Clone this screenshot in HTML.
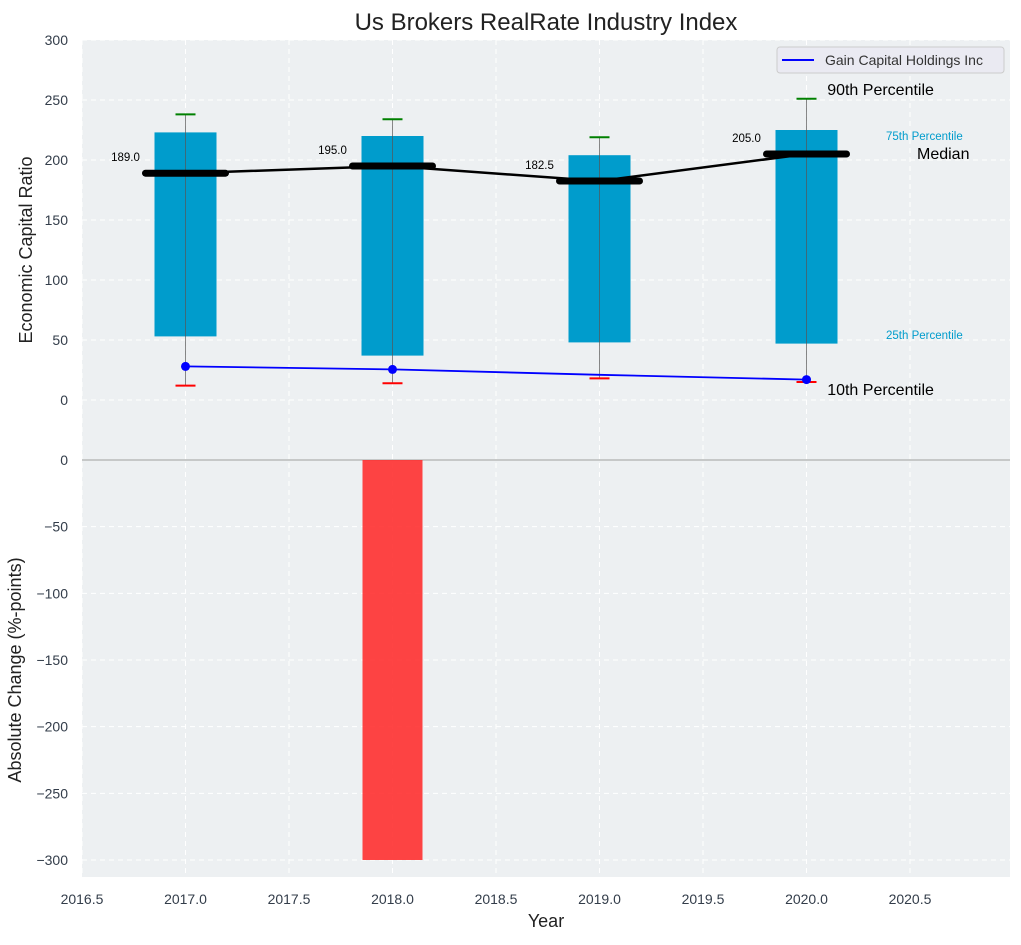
<!DOCTYPE html>
<html><head><meta charset="utf-8">
<style>
body{margin:0;background:#fff;font-family:"Liberation Sans",sans-serif;}
svg text{font-family:"Liberation Sans",sans-serif;}
</style></head>
<body>
<svg id="chart" width="1021" height="940" xmlns="http://www.w3.org/2000/svg"></svg>
<script>
const years = [2017, 2018, 2019, 2020];
const p10 = [12, 14, 18, 15];
const p25 = [53, 37, 48, 47];
const median = [189, 195, 182.5, 205];
const p75 = [223, 220, 204, 225];
const p90 = [238, 234, 219, 251];
const companyYears = [2017, 2018, 2019, 2020];
const companyVals = [28, 25.5, 21, 17];
const companyMarkers = [true, true, false, true];
const changeVals = [0, -300, 0, 0];
const xTicks = [2016.5, 2017.0, 2017.5, 2018.0, 2018.5, 2019.0, 2019.5, 2020.0, 2020.5];
const yTopTicks = [0, 50, 100, 150, 200, 250, 300];
const yBotTicks = [0, -50, -100, -150, -200, -250, -300];

const NS = "http://www.w3.org/2000/svg";
const svg = document.getElementById('chart');
const L = 82, R = 1010;
const x = v => L + (v - 2016.5) * 207;
const yT = v => 400 - v * 1.2;
const yB = v => 460 - v * (400 / 300);
function el(tag, attrs, parent) {
  const e = document.createElementNS(NS, tag);
  for (const k in attrs) e.setAttribute(k, attrs[k]);
  (parent || svg).appendChild(e);
  return e;
}
function txt(s, attrs) { const t = el('text', attrs); t.textContent = s; return t; }

el('rect', {x: L, y: 40, width: R - L, height: 837, fill: '#edf0f2'});
let bg = el('rect', {x: L, y: 40, width: R - L, height: 420, fill: 'none'});


bg = el('rect', {x: L, y: 460, width: R - L, height: 417, fill: 'none'});



xTicks.forEach(t => {
  el('line', {x1: x(t), x2: x(t), y1: 40, y2: 877, stroke: '#fff', 'stroke-dasharray': '5,4', 'stroke-width': 1});
  const lb = txt(t.toFixed(1), {x: x(t), y: 904, 'text-anchor': 'middle', 'font-size': 14, fill: '#333d4a'});
  
  
});
yTopTicks.forEach(t => {
  el('line', {x1: L, x2: R, y1: yT(t), y2: yT(t), stroke: '#fff', 'stroke-dasharray': '5,4'});
  const lb = txt(String(t), {x: 68, y: yT(t) + 5, 'text-anchor': 'end', 'font-size': 14, fill: '#333d4a'});
  
  
});
yBotTicks.forEach(t => {
  el('line', {x1: L, x2: R, y1: yB(t), y2: yB(t), stroke: '#fff', 'stroke-dasharray': '5,4'});
  const lb = txt(String(t).replace('-', '\u2212'), {x: 68, y: yB(t) + 5, 'text-anchor': 'end', 'font-size': 14, fill: '#333d4a'});
  
  
});
el('line', {x1: L, x2: R, y1: 460, y2: 460, stroke: '#b0b0b0', 'stroke-width': 1.2});

years.forEach((yr, i) => {
  const cx = x(yr), w = 62;
  const b = el('rect', {x: cx - w / 2, y: yT(p75[i]), width: w, height: yT(p25[i]) - yT(p75[i]), fill: '#009ccc'});
  
  
  el('line', {x1: cx, x2: cx, y1: yT(p90[i]), y2: yT(p10[i]), stroke: '#555', 'stroke-width': 1, 'stroke-opacity': 0.7});
  const g = el('line', {x1: cx - 10, x2: cx + 10, y1: yT(p90[i]), y2: yT(p90[i]), stroke: 'green', 'stroke-width': 2});
  
  
  const r = el('line', {x1: cx - 10, x2: cx + 10, y1: yT(p10[i]), y2: yT(p10[i]), stroke: 'red', 'stroke-width': 2});
  
  
});
const mp = el('polyline', {points: years.map((yr, i) => x(yr) + ',' + yT(median[i])).join(' '), fill: 'none', stroke: '#000', 'stroke-width': 2.5});


years.forEach((yr, i) => {
  const m = el('line', {x1: x(yr) - 40, x2: x(yr) + 40, y1: yT(median[i]), y2: yT(median[i]), stroke: '#000', 'stroke-width': 7, 'stroke-linecap': 'round'});
  
  
  const lb = txt(median[i].toFixed(1), {x: x(yr - 0.29), y: yT(median[i]) - 12, 'text-anchor': 'middle', 'font-size': 11.5, fill: '#000'});
  
  
});
const cl = el('polyline', {points: companyYears.map((yr, i) => x(yr) + ',' + yT(companyVals[i])).join(' '), fill: 'none', stroke: 'blue', 'stroke-width': 1.8});


companyYears.forEach((yr, i) => {
  if (!companyMarkers[i]) return;
  const c = el('circle', {cx: x(yr), cy: yT(companyVals[i]), r: 4.5, fill: 'blue'});
  
  
});
years.forEach((yr, i) => {
  if (!changeVals[i]) return;
  const v = changeVals[i];
  const b = el('rect', {x: x(yr) - 30, y: Math.min(yB(0), yB(v)), width: 60, height: Math.abs(yB(v) - yB(0)), fill: '#ff2a2a', 'fill-opacity': 0.88});
  
  
});

const last = years.length - 1;
let a = txt('90th Percentile', {x: x(2020.1), y: yT(p90[last]) - 4, 'font-size': 16, fill: '#000'});
 
a = txt('75th Percentile', {x: 886, y: 140, 'font-size': 11.5, fill: '#009ccc'});
 
a = txt('Median', {x: 917, y: 159, 'font-size': 16, fill: '#000'});
 
a = txt('25th Percentile', {x: 886, y: 339, 'font-size': 11.5, fill: '#009ccc'});
 
a = txt('10th Percentile', {x: x(2020.1), y: 395, 'font-size': 16, fill: '#000'});
 

const lg = el('g', {});


el('rect', {x: 777, y: 47, width: 227, height: 26, rx: 3, fill: '#eaeaf2', stroke: '#ccc'}, lg);
el('line', {x1: 782, x2: 814, y1: 60, y2: 60, stroke: 'blue', 'stroke-width': 2}, lg);
const lt = el('text', {x: 825, y: 65, 'font-size': 14, fill: '#333'}, lg);
lt.textContent = 'Gain Capital Holdings Inc';

a = txt('Us Brokers RealRate Industry Index', {x: 546, y: 30, 'text-anchor': 'middle', 'font-size': 24, fill: '#222'});
 
a = txt('Year', {x: 546, y: 927, 'text-anchor': 'middle', 'font-size': 18, fill: '#222'});
 
a = txt('Economic Capital Ratio', {x: 32, y: 250, 'text-anchor': 'middle', 'font-size': 18, fill: '#222', transform: 'rotate(-90 32 250)'});
 
a = txt('Absolute Change (%-points)', {x: 21, y: 670, 'text-anchor': 'middle', 'font-size': 18, fill: '#222', transform: 'rotate(-90 21 670)'});
 
</script>
</body></html>
